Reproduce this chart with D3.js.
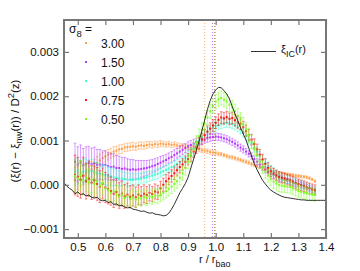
<!DOCTYPE html>
<html>
<head>
<meta charset="utf-8">
<script src="https://cdn.jsdelivr.net/npm/d3@7"></script>
<style>
body { margin: 0; background: #fff; }
text { font-family: "Liberation Sans", Arial, sans-serif; fill: #111; }
</style>
</head>
<body>
<div id="chart"></div>
<script>
// values in units of 1e-5
var rGrid = [0.49,0.50,0.51,0.52,0.53,0.54,0.55,0.56,0.57,0.58,0.59,0.60,0.61,0.62,0.63,0.64,0.65,0.66,0.67,0.68,
  0.69,0.70,0.71,0.72,0.73,0.74,0.75,0.76,0.77,0.78,0.79,0.80,0.81,0.82,0.83,0.84,0.85,0.86,0.87,0.88,
  0.89,0.90,0.91,0.92,0.93,0.94,0.95,0.96,0.97,0.98,0.99,1.00,1.01,1.02,1.03,1.04,1.05,1.06,1.07,1.08,
  1.09,1.10,1.11,1.12,1.13,1.14,1.15,1.16,1.17,1.18,1.19,1.20,1.21,1.22,1.23,1.24,1.25,1.26,1.27,1.28,
  1.29,1.30,1.31,1.32,1.33,1.34,1.35,1.36];

var sigma8Labels = ["3.00", "1.50", "1.00", "0.75", "0.50"];
var sigma8Colors = ["#ffa04c", "#b43cff", "#3cffcc", "#ff1010", "#78ff1e"];
var baoPeak = [0.960, 0.988, 0.996, 0.997, 0.998];

var xi300 = [10,15,19,22,26,30,35,42,49,55,60,64,68,71,75,77,80,81,84,85,
  86,87,86,88,89,88,90,91,90,92,91,93,92,91,92,90,91,89,88,88,
  86,85,84,82,81,80,78,77,76,74,73,72,70,69,67,65,63,62,60,58,
  56,54,52,50,47,45,42,40,37,35,33,31,30,28,27,26,25,24,23,22,
  21,20,19,18,17,15,12,8];
var err300 = [30,26,24,22,20,18,17,16,15,14,13,12,12,11,11,10,10,10,9,9,
  9,9,8,8,8,8,8,7,7,7,7,7,6,6,6,6,6,6,5,5,
  5,5,5,5,5,5,5,5,5,5,5,5,4,4,4,4,4,4,4,4,
  4,4,4,4,4,4,4,4,4,4,4,3,3,3,3,3,3,3,3,3,
  3,3,3,3,3,3,3,3];

var xi150 = [52,46,50,44,48,50,47,49,45,46,44,45,42,40,41,38,38,36,37,35,
  34,35,34,35,36,37,38,40,42,44,47,50,53,56,60,63,67,71,75,79,
  83,87,90,93,96,99,101,103,105,107,108,109,108,107,105,103,100,97,93,89,
  84,80,75,70,65,58,52,46,40,34,29,25,22,18,15,13,11,9,7,5,
  3,2,0,-2,-5,-8,-11,-14];
var err150 = [42,40,40,38,38,37,36,36,35,34,33,32,31,30,29,28,27,26,25,24,
  23,22,21,20,19,18,17,16,15,15,14,14,13,13,12,12,12,11,11,11,
  10,10,10,10,9,9,9,9,9,9,8,8,8,8,8,8,8,8,8,8,
  8,8,7,7,7,7,7,7,7,7,7,7,7,7,7,7,6,6,6,6,
  6,6,6,6,6,6,6,6];

var xi100 = [28,32,27,30,33,29,31,28,26,25,23,22,20,19,17,16,15,14,13,12,
  12,11,12,13,14,16,17,19,21,23,25,28,31,34,37,40,43,47,51,55,
  60,66,73,81,90,99,107,114,120,125,129,132,135,137,139,140,139,137,134,130,
  125,118,110,102,93,84,75,66,57,49,42,35,30,25,21,18,15,12,9,7,
  4,2,0,-2,-5,-7,-10,-13];
var err100 = [30,30,28,28,27,27,26,25,24,23,22,22,21,20,19,18,17,16,15,15,
  14,14,13,13,12,12,12,11,11,11,11,11,10,10,10,10,10,10,10,10,
  10,10,10,10,10,10,10,10,10,10,10,10,10,10,10,10,10,10,10,10,
  10,10,10,10,10,10,10,10,9,9,9,9,9,9,9,9,9,9,9,9,
  9,9,9,9,9,9,9,9];

var xi075 = [22,18,12,20,8,14,5,10,2,-4,3,-6,-10,-14,-20,-16,-24,-20,-26,-22,
  -27,-24,-28,-22,-25,-20,-23,-18,-21,-15,-17,-8,0,8,14,20,26,33,40,46,
  52,58,66,75,84,94,103,112,120,127,134,140,147,152,150,153,149,151,146,141,
  138,130,122,112,102,92,80,68,57,47,38,30,25,21,18,16,14,12,10,7,
  4,1,-1,-3,-6,-8,-10,-12];
var err075 = [45,44,42,42,40,40,38,38,37,36,35,34,33,32,31,30,29,28,27,26,
  25,24,23,22,21,20,19,18,17,17,16,16,15,15,14,14,14,13,13,13,
  13,13,13,13,13,13,13,13,13,13,13,13,13,13,13,13,13,13,13,13,
  13,13,13,13,12,12,12,12,12,12,12,12,12,12,12,12,12,12,12,12,
  12,12,12,12,12,12,12,12];

var xi050 = [20,15,22,10,16,6,12,2,8,-2,4,-8,-12,-18,-14,-22,-26,-22,-30,-26,
  -32,-28,-33,-29,-31,-27,-30,-26,-28,-24,-26,-22,-18,-14,-9,-4,2,8,16,26,
  38,52,66,80,95,110,124,138,152,166,178,188,193,196,192,188,181,175,166,156,
  147,136,125,112,97,82,66,52,40,30,21,13,7,3,0,-2,-3,-4,-5,-8,
  -11,-14,-16,-18,-19,-21,-22,-23];
var err050 = [36,35,34,33,32,31,30,29,28,27,26,25,24,23,22,22,21,21,20,20,
  19,19,18,18,17,17,17,16,16,16,16,16,16,16,16,16,16,16,16,16,
  16,16,16,16,16,16,16,16,16,16,16,16,16,16,16,16,16,16,16,16,
  16,16,16,16,15,15,15,15,15,15,15,15,15,15,15,15,14,14,14,14,
  14,14,14,14,14,14,14,14];

// linear theory xi_IC(r)
var icR = [0.45,0.46,0.47,0.48,0.49,0.50,0.51,0.52,0.53,0.54,0.55,0.56,0.57,0.58,0.59,0.60,0.61,0.62,0.63,0.64,
  0.65,0.66,0.67,0.68,0.69,0.70,0.71,0.72,0.73,0.74,0.75,0.76,0.77,0.78,0.79,0.80,0.81,0.82,0.83,0.84,
  0.85,0.86,0.87,0.88,0.89,0.90,0.91,0.92,0.93,0.94,0.95,0.96,0.97,0.98,0.99,1.00,1.01,1.02,1.03,1.04,
  1.05,1.06,1.07,1.08,1.09,1.10,1.11,1.12,1.13,1.14,1.15,1.16,1.17,1.18,1.19,1.20,1.21,1.22,1.23,1.24,
  1.25,1.26,1.27,1.28,1.29,1.30,1.31,1.32,1.33,1.34,1.35,1.36,1.37,1.38,1.39,1.40];
var icXi = [5,-3,-8,-12,-20,-16,-22,-20,-25,-23,-28,-30,-28,-34,-36,-35,-40,-38,-44,-43,
  -47,-46,-50,-52,-51,-55,-56,-58,-60,-59,-62,-64,-63,-66,-67,-68,-70,-69,-64,-55,
  -44,-31,-18,-8,3,17,38,58,78,99,122,146,170,190,205,214,220,219,213,205,
  194,177,160,145,129,115,101,83,65,48,34,22,10,2,-6,-12,-16,-20,-23,-26,
  -28,-29,-30,-31,-32,-33,-34,-34,-35,-35,-35,-35,-35,-35,-35,-35];

var xTicks = [0.5,0.6,0.7,0.8,0.9,1.0,1.1,1.2,1.3,1.4];
var yTicks = [-0.001, 0.000, 0.001, 0.002, 0.003];

var seriesVals = [xi300, xi150, xi100, xi075, xi050];
var seriesErr = [err300, err150, err100, err075, err050];

// layout
var W = 360, H = 271;
var margin = {top: 20, right: 34, bottom: 33, left: 64};
var width = W - margin.left - margin.right,
    height = H - margin.top - margin.bottom;

var svg = d3.select("#chart").append("svg")
  .attr("width", W).attr("height", H);

var x = d3.scaleLinear().domain([0.45, 1.4]).range([margin.left, margin.left + width]);
var y = d3.scaleLinear().domain([-0.0012, 0.00372]).range([margin.top + height, margin.top]);

var plot = svg.append("g");

// vertical dotted lines at the BAO peak
baoPeak.forEach(function(p, k) {
  plot.append("line")
    .attr("x1", x(p)).attr("x2", x(p))
    .attr("y1", margin.top).attr("y2", margin.top + height)
    .attr("stroke", sigma8Colors[k])
    .attr("stroke-width", 1)
    .attr("stroke-opacity", 0.8)
    .attr("stroke-dasharray", "1,2");
});

// error bars + points
seriesVals.forEach(function(vals, k) {
  var errs = seriesErr[k];
  var g = plot.append("g").attr("stroke", sigma8Colors[k])
    .attr("stroke-width", 0.6).attr("stroke-opacity", 0.85);
  var pts = vals.map(function(v, i) { return {r: rGrid[i], v: v * 1e-5, e: errs[i] * 1e-5}; });
  g.selectAll(".eb").data(pts).enter().append("line")
    .attr("x1", function(d) { return x(d.r); })
    .attr("x2", function(d) { return x(d.r); })
    .attr("y1", function(d) { return y(d.v - d.e); })
    .attr("y2", function(d) { return y(d.v + d.e); });
  g.selectAll(".capT").data(pts).enter().append("line")
    .attr("x1", function(d) { return x(d.r) - 1.3; })
    .attr("x2", function(d) { return x(d.r) + 1.3; })
    .attr("y1", function(d) { return y(d.v + d.e); })
    .attr("y2", function(d) { return y(d.v + d.e); });
  g.selectAll(".capB").data(pts).enter().append("line")
    .attr("x1", function(d) { return x(d.r) - 1.3; })
    .attr("x2", function(d) { return x(d.r) + 1.3; })
    .attr("y1", function(d) { return y(d.v - d.e); })
    .attr("y2", function(d) { return y(d.v - d.e); });
  g.selectAll(".pt").data(pts).enter().append("rect")
    .attr("x", function(d) { return x(d.r) - 1; })
    .attr("y", function(d) { return y(d.v) - 1; })
    .attr("width", 2).attr("height", 2)
    .attr("fill", sigma8Colors[k]).attr("stroke", "none");
});

// xi_IC line
var line = d3.line()
  .x(function(d, i) { return x(icR[i]); })
  .y(function(d) { return y(d * 1e-5); });
plot.append("path").datum(icXi)
  .attr("d", line)
  .attr("fill", "none")
  .attr("stroke", "#1a1a1a")
  .attr("stroke-width", 0.9);

// frame and ticks
var frameCol = "#777";
svg.append("rect")
  .attr("x", margin.left).attr("y", margin.top)
  .attr("width", width).attr("height", height)
  .attr("fill", "none").attr("stroke", frameCol).attr("stroke-width", 2);

var xAxisB = svg.append("g").attr("transform", "translate(0," + (margin.top + height) + ")")
  .call(d3.axisBottom(x).tickValues(xTicks).tickSize(-5).tickPadding(5).tickFormat(d3.format(".1f")));
var xAxisT = svg.append("g").attr("transform", "translate(0," + margin.top + ")")
  .call(d3.axisTop(x).tickValues(xTicks).tickSize(-5).tickFormat(""));
var yAxisL = svg.append("g").attr("transform", "translate(" + margin.left + ",0)")
  .call(d3.axisLeft(y).tickValues(yTicks).tickSize(-5).tickPadding(5).tickFormat(function(d) {
    return d3.format(".3f")(d).replace("-", "\u2212");
  }));
var yAxisR = svg.append("g").attr("transform", "translate(" + (margin.left + width) + ",0)")
  .call(d3.axisRight(y).tickValues(yTicks).tickSize(-5).tickFormat(""));

[xAxisB, xAxisT, yAxisL, yAxisR].forEach(function(a) {
  a.select(".domain").remove();
  a.selectAll(".tick line").attr("stroke", frameCol).attr("stroke-width", 1.2);
  a.selectAll("text").attr("font-size", 11.5).attr("fill", "#111")
    .attr("font-family", "'Liberation Sans', Arial, sans-serif");
});

// axis titles
var xl = svg.append("text").attr("x", 199).attr("y", 263).attr("font-size", 11);
xl.append("tspan").text("r / r");
xl.append("tspan").attr("dy", 4).attr("font-size", 9).text("bao");

var yl = svg.append("text")
  .attr("transform", "translate(19,131) rotate(-90)")
  .attr("text-anchor", "middle").attr("font-size", 11.5);
yl.append("tspan").text("(\u03be(r) \u2212 \u03be");
yl.append("tspan").attr("dy", 3).attr("font-size", 9.5).text("nw");
yl.append("tspan").attr("dy", -3).text("(r)) / D");
yl.append("tspan").attr("dy", -5).attr("font-size", 9.5).text("2");
yl.append("tspan").attr("dy", 5).text("(z)");

// legend
var lg = svg.append("text").attr("x", 69).attr("y", 33).attr("font-size", 12);
lg.append("tspan").text("\u03c3");
lg.append("tspan").attr("dy", 4).attr("font-size", 9.5).text("8");
lg.append("tspan").attr("dy", -4).text(" =");

sigma8Labels.forEach(function(lab, k) {
  var yy = 43 + k * 19;
  svg.append("rect").attr("x", 85).attr("y", yy - 1).attr("width", 2).attr("height", 2)
    .attr("fill", sigma8Colors[k]);
  svg.append("text").attr("x", 101).attr("y", yy + 4.5).attr("font-size", 12).text(lab);
});

svg.append("line").attr("x1", 251).attr("x2", 276).attr("y1", 51.5).attr("y2", 51.5)
  .attr("stroke", "#1a1a1a").attr("stroke-width", 0.9);
var icl = svg.append("text").attr("x", 281).attr("y", 53).attr("font-size", 11);
icl.append("tspan").text("\u03be");
icl.append("tspan").attr("dy", 4).attr("font-size", 9).text("IC");
icl.append("tspan").attr("dy", -4).text("(r)");
</script>
</body>
</html>
